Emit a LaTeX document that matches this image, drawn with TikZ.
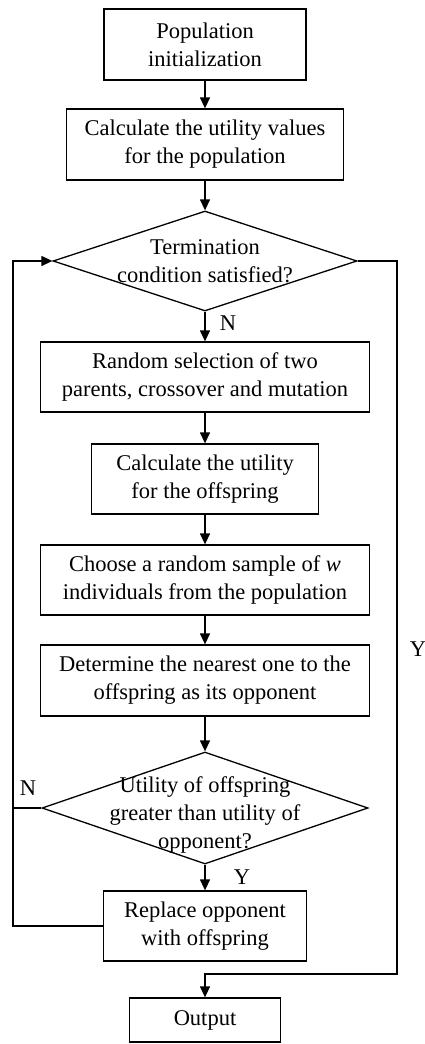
\documentclass[tikz,border=0pt]{standalone}
\usepackage{fontspec}
\setmainfont{Liberation Serif}
\usetikzlibrary{shapes.geometric,arrows.meta}
\begin{document}
\begin{tikzpicture}[x=1pt,y=-1pt,
  every node/.style={font=\fontsize{22.5}{28}\selectfont},
  box/.style={draw,line width=1.3pt,rectangle,inner sep=0pt,align=center},
  dia/.style={draw,line width=1.3pt,diamond,inner sep=0pt},
  txt/.style={align=center,inner sep=0pt},
  lbl/.style={inner sep=0pt},
  arr/.style={line width=1.3pt,-{Triangle[length=11pt,width=10pt]}},
  ln/.style={line width=1.3pt}]
\useasboundingbox (0,0) rectangle (424,1044);
\node[box,minimum width=202pt,minimum height=71pt] (b1) at (205,44.5) {Population\\initialization};
\node[box,minimum width=277pt,minimum height=71pt] (b2) at (205,144.5) {Calculate the utility values\\for the population};
\node[dia,minimum width=304pt,minimum height=100pt] (d1) at (205,261) {};
\node[txt] (t1) at (205,261) {Termination\\condition satisfied?};
\node[box,minimum width=329pt,minimum height=70pt] (b3) at (205,377) {Random selection of two\\parents, crossover and mutation};
\node[box,minimum width=227pt,minimum height=70pt] (b4) at (205,479) {Calculate the utility\\for the offspring};
\node[box,minimum width=329pt,minimum height=70pt] (b5) at (205,580) {Choose a random sample of \textit{w}\\individuals from the population};
\node[box,minimum width=329pt,minimum height=71pt] (b6) at (205,680.5) {Determine the nearest one to the\\offspring as its opponent};
\node[dia,minimum width=326pt,minimum height=112pt] (d2) at (205,808) {};
\node[txt] (t2) at (205,815) {Utility of offspring\\greater than utility of\\opponent?};
\node[box,minimum width=203pt,minimum height=70pt] (b7) at (205,926) {Replace opponent\\with offspring};
\node[box,minimum width=151pt,minimum height=44pt] (b8) at (205,1020) {Output};

\coordinate (lb) at (13,926);
\coordinate (lt) at (13,261);
\coordinate (rt) at (397,261);
\coordinate (rb) at (397,974);
\coordinate (ob) at (205,974);

\draw[arr] (b1.south) -- (b2.north);
\draw[arr] (b2.south) -- (d1.north);
\draw[arr] (d1.south) -- (b3.north);
\draw[arr] (b3.south) -- (b4.north);
\draw[arr] (b4.south) -- (b5.north);
\draw[arr] (b5.south) -- (b6.north);
\draw[arr] (b6.south) -- (d2.north);
\draw[arr] (d2.south) -- (b7.north);
\draw[arr] (b7.west) -- (lb) -- (lt) -- (d1.west);
\draw[ln] (d2.west) -- (d2.west -| lb);
\draw[arr] (d1.east) -- (rt) -- (rb) -- (ob) -- (b8.north);

\node[lbl] (n1) at (228,323) {N};
\node[lbl] (n2) at (28,788) {N};
\node[lbl] (y1) at (242,877) {Y};
\node[lbl] (y2) at (418,649) {Y};
\end{tikzpicture}
\end{document}
